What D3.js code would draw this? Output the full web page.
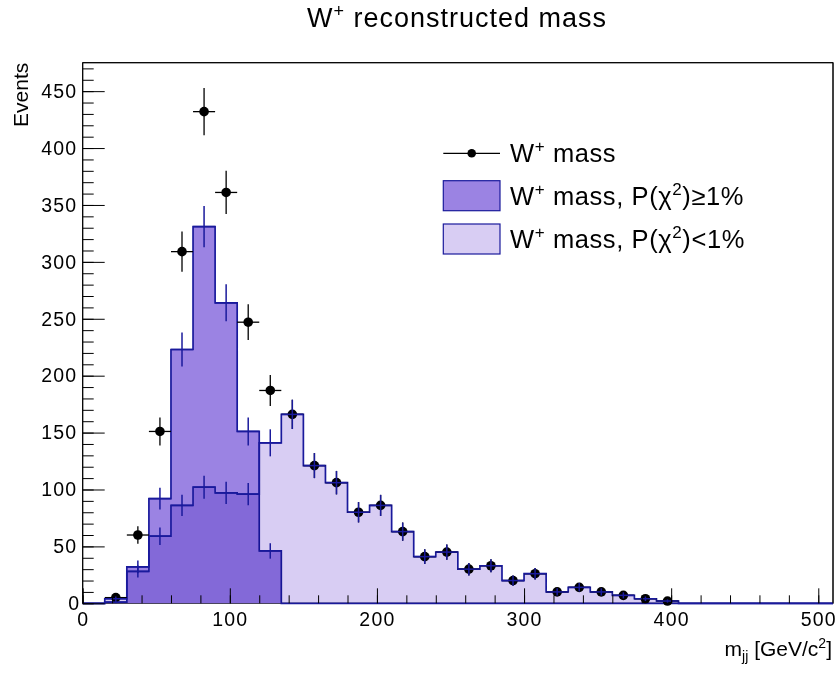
<!DOCTYPE html>
<meta charset="utf-8">
<script src="https://d3js.org/d3.v7.min.js"></script>
<style>
  body { margin: 0; background: #fff; }
  text { font-family: "Liberation Sans", Arial, Helvetica, sans-serif; fill: #000; }
</style>
<div id="my_dataviz"></div>
<script>

// histogram binning (GeV/c^2)
var binWidth = 15;
var xRange = [0, 510];
var yRange = [0, 475];

// black points: all W+ candidates
var totalMass = [0, 5, 60, 151, 309, 432, 361, 247, 187, 166, 121, 106, 80, 86, 63, 41, 45, 30, 33, 20, 26, 10, 14, 10, 7, 4, 2, 0, 0, 0, 0, 0, 0, 0];
// fit probability >= 1%
var goodFit = [0, 1, 32, 92, 223, 331, 264, 151, 46, 0, 0, 0, 0, 0, 0, 0, 0, 0, 0, 0, 0, 0, 0, 0, 0, 0, 0, 0, 0, 0, 0, 0, 0, 0];
// fit probability < 1%
var badFit = [0, 4, 28, 59, 86, 102, 97, 96, 141, 166, 121, 106, 80, 86, 63, 41, 45, 30, 33, 20, 26, 10, 14, 10, 7, 4, 2, 0, 0, 0, 0, 0, 0, 0];

var xMajor = [0, 100, 200, 300, 400, 500];
var yMajor = [0, 50, 100, 150, 200, 250, 300, 350, 400, 450];

var W = 838, H = 673;
var frame = {left: 82.7, right: 833, top: 62.7, bottom: 603.3};

var svg = d3.select("#my_dataviz")
  .append("svg")
  .attr("width", W)
  .attr("height", H);

var x = d3.scaleLinear().domain(xRange).range([frame.left, frame.right]);
var y = d3.scaleLinear().domain(yRange).range([frame.bottom, frame.top]);

var goodColor = "#9b83e3",
    badColor = "#d8cdf3",
    lineColor = "#1a1a9c";

// frame
svg.append("rect")
  .attr("x", frame.left).attr("y", frame.top)
  .attr("width", frame.right - frame.left)
  .attr("height", frame.bottom - frame.top)
  .attr("fill", "#fff")
  .attr("stroke", "#000")
  .attr("stroke-width", 1);

// turn a list of bin contents into step points
function steps(vals) {
  var pts = vals.map(function(v, i) { return [i * binWidth, v]; });
  pts.push([vals.length * binWidth, vals[vals.length - 1]]);
  return pts;
}

var area = d3.area()
  .curve(d3.curveStepAfter)
  .x(function(d) { return x(d[0]); })
  .y0(y(0))
  .y1(function(d) { return y(d[1]); });

var line = d3.line()
  .curve(d3.curveStepAfter)
  .x(function(d) { return x(d[0]); })
  .y(function(d) { return y(d[1]); });

function drawHist(vals, color, blend) {
  var g = svg.append("g");
  g.append("path")
    .datum(steps(vals))
    .attr("d", area)
    .attr("fill", color)
    .style("mix-blend-mode", blend);
  g.append("path")
    .datum(steps(vals))
    .attr("d", line)
    .attr("fill", "none")
    .attr("stroke", lineColor)
    .attr("stroke-width", 1.7);
}

drawHist(goodFit, goodColor, "normal");
drawHist(badFit, badColor, "multiply");

// data points with errors
function errBars(vals, color, width) {
  var g = svg.append("g")
    .attr("stroke", color)
    .attr("stroke-width", width);
  var nz = vals.map(function(v, i) { return {v: v, i: i}; })
               .filter(function(d) { return d.v > 0; });
  g.selectAll(".ev").data(nz).enter().append("line")
    .attr("x1", function(d) { return x((d.i + 0.5) * binWidth); })
    .attr("x2", function(d) { return x((d.i + 0.5) * binWidth); })
    .attr("y1", function(d) { return y(d.v - Math.sqrt(d.v)); })
    .attr("y2", function(d) { return y(d.v + Math.sqrt(d.v)); });
  g.selectAll(".eh").data(nz).enter().append("line")
    .attr("x1", function(d) { return x(d.i * binWidth); })
    .attr("x2", function(d) { return x((d.i + 1) * binWidth); })
    .attr("y1", function(d) { return y(d.v); })
    .attr("y2", function(d) { return y(d.v); });
  return nz;
}

var pts = errBars(totalMass, "#000", 1.3);
svg.append("g").selectAll("circle")
  .data(pts).enter().append("circle")
  .attr("cx", function(d) { return x((d.i + 0.5) * binWidth); })
  .attr("cy", function(d) { return y(d.v); })
  .attr("r", 4.8)
  .attr("fill", "#000");

errBars(goodFit, lineColor, 1.5);
errBars(badFit, lineColor, 1.5);

// axes, ticks drawn inward like ROOT
var tickFont = "19.5px";
var yAx = svg.append("g")
  .attr("transform", "translate(" + frame.left + ",0)")
  .call(d3.axisLeft(y).tickValues(yMajor).tickSizeInner(-22).tickSizeOuter(0).tickPadding(5.4));
svg.append("g")
  .attr("transform", "translate(" + frame.left + ",0)")
  .call(d3.axisLeft(y).tickValues(d3.range(0, 476, 10)).tickSizeInner(-11).tickSizeOuter(0).tickFormat(""));

var xAx = svg.append("g")
  .attr("transform", "translate(0," + frame.bottom + ")")
  .call(d3.axisBottom(x).tickValues(xMajor).tickSizeInner(-15).tickSizeOuter(0).tickPadding(8.5));
svg.append("g")
  .attr("transform", "translate(0," + frame.bottom + ")")
  .call(d3.axisBottom(x).tickValues(d3.range(0, 511, 20)).tickSizeInner(-8).tickSizeOuter(0).tickFormat(""));

svg.selectAll(".domain").remove();
svg.selectAll(".tick line").attr("stroke", "#000").attr("stroke-width", 1);
svg.selectAll(".tick text")
  .style("font-size", tickFont)
  .style("letter-spacing", "1.2px")
  .attr("font-family", null);

// y "0" label sits a little to the right in ROOT
yAx.selectAll(".tick text")
  .filter(function(d) { return d === 0; })
  .attr("x", -2.5);

// frame edges on top (bottom keeps the histogram line)
svg.append("path")
  .attr("d", "M" + frame.left + "," + frame.bottom + "V" + frame.top + "H" + frame.right + "V" + frame.bottom)
  .attr("fill", "none")
  .attr("stroke", "#000")
  .attr("stroke-width", 1);

// title
var title = svg.append("text")
  .attr("x", 457).attr("y", 26.7)
  .attr("text-anchor", "middle")
  .style("font-size", "27px")
  .style("letter-spacing", "1px");
title.append("tspan").text("W");
title.append("tspan").attr("dy", -10).style("font-size", "18px").text("+");
title.append("tspan").attr("dy", 10).text(" reconstructed mass");

// axis titles
var xt = svg.append("text")
  .attr("x", 832).attr("y", 656)
  .attr("text-anchor", "end")
  .style("font-size", "21px");
xt.append("tspan").text("m");
xt.append("tspan").attr("dy", 5).style("font-size", "14px").text("jj");
xt.append("tspan").attr("dy", -5).text(" [GeV/c");
xt.append("tspan").attr("dy", -8).style("font-size", "14px").text("2");
xt.append("tspan").attr("dy", 8).text("]");

svg.append("text")
  .attr("transform", "translate(28," + frame.top + ") rotate(-90)")
  .attr("text-anchor", "end")
  .style("font-size", "21px")
  .text("Events");

// legend
var legend = svg.append("g");
legend.append("line")
  .attr("x1", 443.3).attr("x2", 500).attr("y1", 153.3).attr("y2", 153.3)
  .attr("stroke", "#000").attr("stroke-width", 1.3);
legend.append("circle")
  .attr("cx", 471.7).attr("cy", 153.3).attr("r", 4.3).attr("fill", "#000");
legend.append("rect")
  .attr("x", 443.3).attr("y", 180.7).attr("width", 56.7).attr("height", 30)
  .attr("fill", goodColor).attr("stroke", lineColor).attr("stroke-width", 1.2);
legend.append("rect")
  .attr("x", 443.3).attr("y", 224).attr("width", 56.7).attr("height", 30)
  .attr("fill", badColor).attr("stroke", lineColor).attr("stroke-width", 1.2);

var labels = [
  {y: 161.7, tail: " mass", sup2: null, end: ""},
  {y: 205, tail: " mass, P(\u03c7", sup2: "2", end: ")\u22651%"},
  {y: 248.3, tail: " mass, P(\u03c7", sup2: "2", end: ")<1%"}
];
labels.forEach(function(l) {
  var t = legend.append("text")
    .attr("x", 510).attr("y", l.y)
    .style("font-size", "25.5px")
    .style("letter-spacing", "0.6px");
  t.append("tspan").text("W");
  t.append("tspan").attr("dy", -10).style("font-size", "17px").text("+");
  t.append("tspan").attr("dy", 10).text(l.tail);
  if (l.sup2) {
    t.append("tspan").attr("dy", -10).style("font-size", "17px").text(l.sup2);
    t.append("tspan").attr("dy", 10).text(l.end);
  }
});

</script>
